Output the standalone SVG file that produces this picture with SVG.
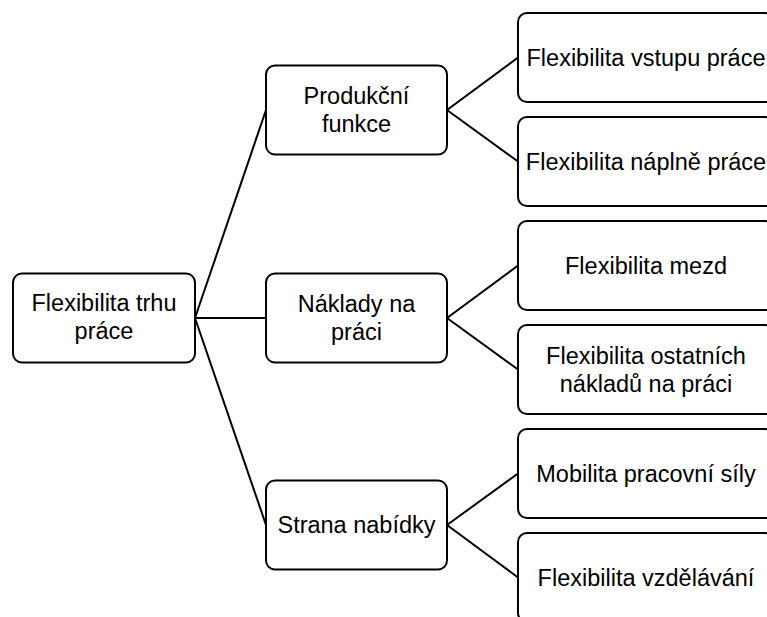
<svg xmlns="http://www.w3.org/2000/svg" width="767" height="617" viewBox="0 0 767 617">
<style>
.box{fill:#fff;stroke:#000;stroke-width:2}
.t{font-family:"Liberation Sans",Arial,sans-serif;font-size:23.5px;fill:#000;text-anchor:middle}
.c{stroke:#000;stroke-width:2;fill:none}
</style>
<rect width="767" height="617" fill="#fff"/>
<g id="connectors">
<line class="c" x1="195" y1="318" x2="266" y2="110"/>
<line class="c" x1="195" y1="318" x2="266" y2="318"/>
<line class="c" x1="195" y1="318" x2="266" y2="525"/>
<line class="c" x1="447" y1="110" x2="518" y2="57.5"/>
<line class="c" x1="447" y1="110" x2="518" y2="161.5"/>
<line class="c" x1="447" y1="318" x2="518" y2="265.5"/>
<line class="c" x1="447" y1="318" x2="518" y2="369.5"/>
<line class="c" x1="447" y1="525" x2="518" y2="473.5"/>
<line class="c" x1="447" y1="525" x2="518" y2="577.5"/>
</g>
<g id="root">
<rect class="box" x="13" y="273.5" width="182" height="89" rx="9"/>
<text class="t" x="104" y="311">Flexibilita trhu</text>
<text class="t" x="104" y="339">práce</text>
</g>
<g id="produkcni">
<rect class="box" x="266" y="65.5" width="181" height="89" rx="9"/>
<text class="t" x="356.5" y="104">Produkční</text>
<text class="t" x="356.5" y="132">funkce</text>
</g>
<g id="naklady">
<rect class="box" x="266" y="273.5" width="181" height="89" rx="9"/>
<text class="t" x="356.5" y="312">Náklady na</text>
<text class="t" x="356.5" y="340">práci</text>
</g>
<g id="strana">
<rect class="box" x="266" y="480.5" width="181" height="89" rx="9"/>
<text class="t" x="356.5" y="533">Strana nabídky</text>
</g>
<g id="vstup">
<rect class="box" x="518" y="13" width="256" height="89" rx="9"/>
<text class="t" x="646" y="65.5">Flexibilita vstupu práce</text>
</g>
<g id="napln">
<rect class="box" x="518" y="117" width="256" height="89" rx="9"/>
<text class="t" x="646" y="169.5">Flexibilita náplně práce</text>
</g>
<g id="mzdy">
<rect class="box" x="518" y="221" width="256" height="89" rx="9"/>
<text class="t" x="646" y="273.5">Flexibilita mezd</text>
</g>
<g id="ostatni">
<rect class="box" x="518" y="325" width="256" height="89" rx="9"/>
<text class="t" x="646" y="364">Flexibilita ostatních</text>
<text class="t" x="646" y="392">nákladů na práci</text>
</g>
<g id="mobilita">
<rect class="box" x="518" y="429" width="256" height="89" rx="9"/>
<text class="t" x="646" y="481.5">Mobilita pracovní síly</text>
</g>
<g id="vzdelavani">
<rect class="box" x="518" y="533" width="256" height="89" rx="9"/>
<text class="t" x="646" y="585.5">Flexibilita vzdělávání</text>
</g>
</svg>
